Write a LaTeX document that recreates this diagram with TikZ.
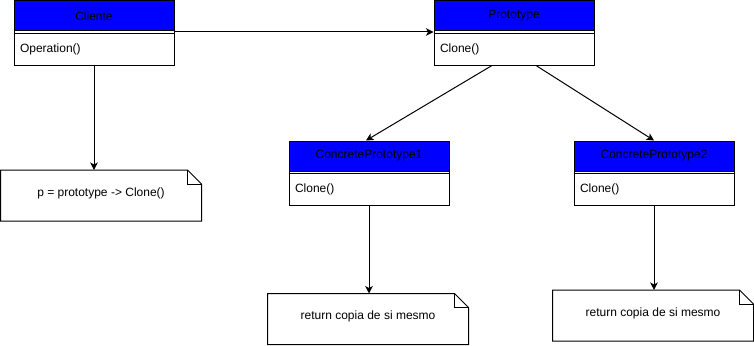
\documentclass[tikz,border=0pt]{standalone}
\usepackage{fontspec}
\setmainfont{Liberation Sans}
\usetikzlibrary{arrows.meta}
\definecolor{umlblue}{RGB}{0,0,255}
\begin{document}
\begin{tikzpicture}[x=1pt,y=-1pt,line width=1pt,
  font=\fontsize{12}{14}\selectfont,
  classbox/.style={draw, fill=white, minimum width=160pt, minimum height=64pt,
    anchor=north west, inner sep=0pt},
  head/.style={draw, fill=umlblue, minimum width=160pt, minimum height=30pt,
    anchor=north, inner sep=0pt, text=black},
  method/.style={anchor=west, inner sep=0pt},
  notebox/.style={minimum width=200pt, minimum height=50pt, inner sep=0pt},
  arr/.style={-{Stealth[length=7.5pt,width=7.5pt,inset=2pt]}},
]
\useasboundingbox (0,0) rectangle (754,345);

% class boxes: header, separator, operation
\newcommand\umlclass[5]{%
  \node[classbox] (#1) at (#2,#3) {};
  \node[head] (#1h) at (#1.north) {#4};
  \draw ([yshift=-33pt]#1.north west) -- ([yshift=-33pt]#1.north east);
  \node[method] (#1m) at ([xshift=6pt,yshift=-49pt]#1.north west) {#5};
}
% note with folded top-right corner
\newcommand\umlnote[4]{%
  \node[notebox] (#1) at (#2,#3) {};
  \draw (#1.north west) -- ([xshift=-14pt]#1.north east)
        -- ([yshift=-14pt]#1.north east) -- (#1.south east)
        -- (#1.south west) -- cycle;
  \draw ([xshift=-14pt]#1.north east) -- ([xshift=-14pt,yshift=-14pt]#1.north east)
        -- ([yshift=-14pt]#1.north east);
  \node[inner sep=0pt] (#1t) at ([yshift=2.5pt]#1.center) {#4};
}

\umlclass{cli}{13.5}{0.5}{Cliente}{Operation()}
\umlclass{pro}{433.5}{0.5}{Prototype}{Clone()}
\umlclass{cpa}{288.5}{140.5}{ConcretePrototype1}{Clone()}
\umlclass{cpb}{573.5}{140.5}{ConcretePrototype2}{Clone()}

\umlnote{noa}{101}{195.5}{p = prototype -> Clone()}
\umlnote{nob}{368}{319}{return copia de si mesmo}
\umlnote{noc}{653}{315.5}{return copia de si mesmo}

% connectors
\draw[arr] ([yshift=-31.5pt]cli.north east) -- ([yshift=-31.5pt]pro.north west);
\draw[arr] (cli.south) -- (noa.north -| cli.south);
\draw[arr] ([xshift=-22pt]pro.south) -- ([xshift=-3pt]cpa.north);
\draw[arr] ([xshift=22pt]pro.south) -- (cpb.north);
\draw[arr] (cpa.south) -- (nob.north -| cpa.south);
\draw[arr] (cpb.south) -- (noc.north -| cpb.south);
\end{tikzpicture}
\end{document}
